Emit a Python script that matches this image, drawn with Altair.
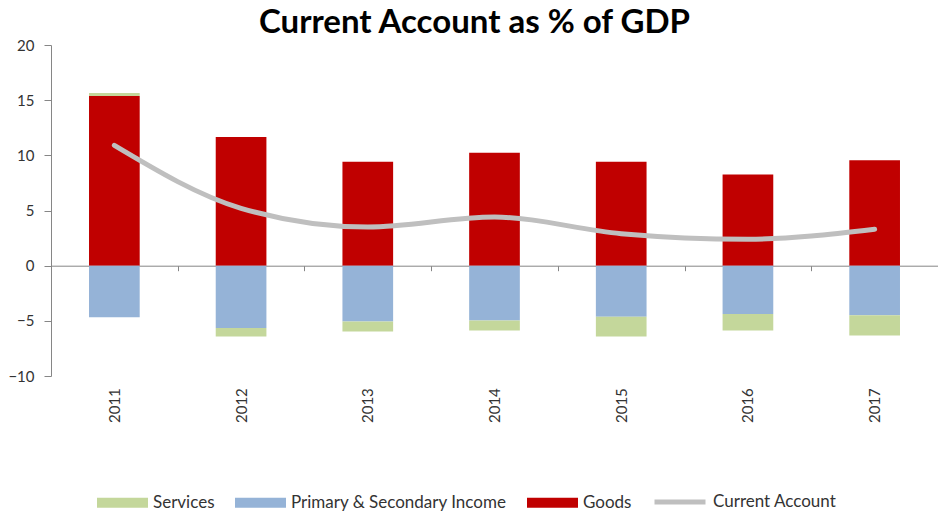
import altair as alt
import pandas as pd

years = ["2011", "2012", "2013", "2014", "2015", "2016", "2017"]
goods = [15.38, 11.67, 9.41, 10.23, 9.41, 8.26, 9.56]
primary_secondary = [-4.68, -5.64, -5.07, -4.98, -4.62, -4.38, -4.50]
services = [0.27, -0.79, -0.90, -0.90, -1.81, -1.50, -1.84]
current_account = [10.9, 5.2, 3.5, 4.4, 2.9, 2.4, 3.3]

series_names = ["Services", "Primary & Secondary Income", "Goods"]
series_colors = ["#C4D79B", "#95B3D7", "#C00000"]
stack_order = {"Goods": 0, "Primary & Secondary Income": 1, "Services": 2}

rows = []
for i, y in enumerate(years):
    for name, vals in (("Goods", goods), ("Primary & Secondary Income", primary_secondary), ("Services", services)):
        rows.append({"year": y, "series": name, "value": vals[i], "ord": stack_order[name]})
bars_df = pd.DataFrame(rows)
line_df = pd.DataFrame({"year": years, "value": current_account, "series": ["Current Account"] * len(years)})

FONT = "Lato"
LABEL_COLOR = "#333333"
x_scale = alt.Scale(domain=years, paddingInner=0, paddingOuter=0)
y_scale = alt.Scale(domain=[-10, 20], nice=False, zero=False)

bars = alt.Chart(bars_df).mark_bar(width={"band": 0.4}).encode(
    x=alt.X("year:N", scale=x_scale, title=None,
            axis=alt.Axis(labelAngle=-90, offset=-110.3, tickBand="extent", tickSize=5,
                          labelPadding=117, domainColor="#868686", tickColor="#868686",
                          labelColor=LABEL_COLOR, labelFont=FONT, labelFontSize=15)),
    y=alt.Y("value:Q", stack="zero", scale=y_scale, title=None,
            axis=alt.Axis(values=[-10, -5, 0, 5, 10, 15, 20], grid=False, tickSize=7,
                          domainColor="#868686", tickColor="#868686", labelPadding=10,
                          labelColor=LABEL_COLOR, labelFont=FONT, labelFontSize=15)),
    color=alt.Color("series:N", scale=alt.Scale(domain=series_names, range=series_colors),
                    legend=alt.Legend(title=None, orient="none", legendX=46, legendY=432,
                                      direction="horizontal", columns=3, labelLimit=400,
                                      symbolType="M-1,-0.2H1V0.2H-1Z", symbolSize=2601,
                                      symbolStrokeWidth=0, labelOffset=5, columnPadding=20,
                                      labelFont=FONT, labelFontSize=17, labelColor=LABEL_COLOR)),
    order=alt.Order("ord:Q"),
)

line = alt.Chart(line_df).mark_line(interpolate="monotone", strokeWidth=5, strokeCap="round").encode(
    x=alt.X("year:N", scale=x_scale),
    y=alt.Y("value:Q", scale=y_scale),
    stroke=alt.Stroke("series:N", scale=alt.Scale(domain=["Current Account"], range=["#BFBFBF"]),
                      legend=alt.Legend(title=None, orient="none", legendX=601, legendY=429,
                                        symbolType="stroke", symbolSize=2601, symbolStrokeWidth=5,
                                        labelOffset=5, labelFont=FONT, labelFontSize=17,
                                        labelColor=LABEL_COLOR)),
)

chart = alt.layer(bars, line).resolve_scale(color="independent").properties(
    width=887, height=331,
    autosize=alt.AutoSizeParams(type="none"),
    padding={"left": 43, "top": 37, "right": 0, "bottom": 136},
    title=alt.Title("Current Account as % of GDP", font=FONT, fontSize=33, fontWeight="bold",
                    color="black", anchor="middle", dx=-20, offset=-2),
).configure_view(stroke=None)

chart.save("out.html", embed_options={"renderer": "svg", "actions": False})
